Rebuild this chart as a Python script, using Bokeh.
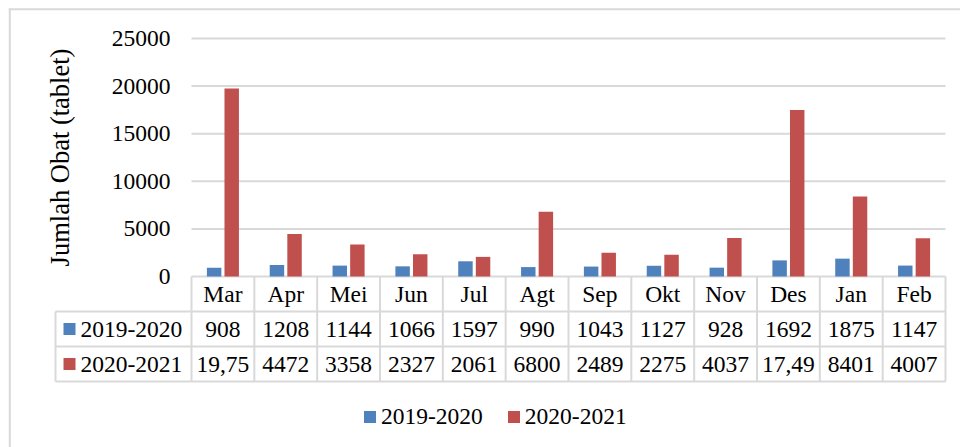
import numpy as np
from bokeh.plotting import figure
from bokeh.models import Range1d, FixedTicker, Legend, LegendItem, NumeralTickFormatter
from bokeh.embed import file_html
from bokeh.resources import INLINE
from bokeh.core.properties import value

# ---------------- data ----------------
months = ["Mar", "Apr", "Mei", "Jun", "Jul", "Agt", "Sep", "Okt", "Nov", "Des", "Jan", "Feb"]
series_names = ["2019-2020", "2020-2021"]
values_2019_2020 = [908, 1208, 1144, 1066, 1597, 990, 1043, 1127, 928, 1692, 1875, 1147]
values_2020_2021 = [19750, 4472, 3358, 2327, 2061, 6800, 2489, 2275, 4037, 17490, 8401, 4007]
table_2019_2020 = ["908", "1208", "1144", "1066", "1597", "990", "1043", "1127", "928", "1692", "1875", "1147"]
table_2020_2021 = ["19,75", "4472", "3358", "2327", "2061", "6800", "2489", "2275", "4037", "17,49", "8401", "4007"]
y_ticks = [0, 5000, 10000, 15000, 20000, 25000]
y_title = "Jumlah Obat (tablet)"

# ---------------- style / layout ----------------
BLUE = "#4f81bd"
RED = "#c0504d"
GRID = "#d9d9d9"
FONT = "Liberation Serif"
FS = "23.5px"

W, H = 960, 447                 # canvas pixels (canvas origin = page origin)
n = len(months)
X0_PX, X1_PX = 191, 945         # category area
Y0_PX, YTOP_PX = 276, 38        # value 0 and value 25000
CAT_PX = (X1_PX - X0_PX) / n
PX_VAL = 25000 / (Y0_PX - YTOP_PX)
centers = np.arange(n) + 0.5


def px_x(px):
    return (px - X0_PX) / CAT_PX


def px_y(py):
    return (Y0_PX - py) * PX_VAL


p = figure(width=W, height=H, output_backend="svg", toolbar_location=None,
           x_range=Range1d(px_x(0), px_x(W)), y_range=Range1d(px_y(H), px_y(0)),
           x_axis_location=None,
           min_border=0, min_border_left=0, min_border_right=0,
           min_border_top=0, min_border_bottom=0,
           outline_line_color=None)
p.grid.visible = False
# table coordinates: pixels below the zero line
p.extra_y_ranges = {"tab": Range1d(H - Y0_PX, 0 - Y0_PX)}

# y axis placed at the start of the category area
ya = p.yaxis[0]
ya.fixed_location = 0
ya.bounds = (0, 25000)
ya.ticker = FixedTicker(ticks=y_ticks)
ya.formatter = NumeralTickFormatter(format="0")
ya.axis_line_color = None
ya.major_tick_line_color = None
ya.minor_tick_line_color = None
ya.major_tick_out = 0
ya.major_tick_in = 0
ya.major_label_standoff = 21
ya.major_label_text_font = FONT
ya.major_label_text_font_size = FS
ya.major_label_text_color = "black"
ya.axis_label = y_title
ya.axis_label_text_font = FONT
ya.axis_label_text_font_size = "26.5px"
ya.axis_label_text_font_style = "normal"
ya.axis_label_text_color = "black"
ya.axis_label_standoff = 34

# chart-area border (top and left edges)
p.segment(x0=[px_x(9.3), px_x(8.3)], x1=[px_x(9.3), px_x(W)],
          y0=[px_y(8.3), px_y(8.8)], y1=[px_y(H), px_y(8.8)],
          line_color=GRID, line_width=2)

# gridlines over the category area
p.segment(x0=[0] * len(y_ticks), x1=[n] * len(y_ticks), y0=y_ticks, y1=y_ticks,
          line_color=GRID, line_width=2)

# bars
p.vbar(x=centers - 0.14, top=values_2019_2020, width=0.23, bottom=0,
       fill_color=BLUE, line_color=None)
p.vbar(x=centers + 0.14, top=values_2020_2021, width=0.23, bottom=0,
       fill_color=RED, line_color=None)

# ---------------- data table ----------------
ROW = 35
LEG_W = 136 / CAT_PX
hy = [ROW, 2 * ROW, 3 * ROW]
p.segment(x0=[-LEG_W] * 3, x1=[n] * 3, y0=hy, y1=hy, line_color=GRID, line_width=2,
          y_range_name="tab")
vx = list(range(n + 1))
p.segment(x0=vx, x1=vx, y0=[0] * len(vx), y1=[3 * ROW] * len(vx), line_color=GRID,
          line_width=2, y_range_name="tab")
p.segment(x0=[-LEG_W], x1=[-LEG_W], y0=[ROW], y1=[3 * ROW], line_color=GRID,
          line_width=2, y_range_name="tab")

txt = dict(text_font=value(FONT), text_font_size=value(FS), text_color="black",
           text_align="center", text_baseline="middle", y_range_name="tab")
p.text(x=centers, y=[ROW * 0.5] * n, text=months, **txt)
p.text(x=centers, y=[ROW * 1.5] * n, text=table_2019_2020, **txt)
p.text(x=centers, y=[ROW * 2.5] * n, text=table_2020_2021, **txt)

r_sq = p.rect(x=[-LEG_W + 14 / CAT_PX] * 2, y=[ROW * 1.5, ROW * 2.5], width=12, height=12,
              width_units="screen", height_units="screen",
              fill_color=[BLUE, RED], line_color=None, y_range_name="tab")
p.text(x=[-LEG_W + 25 / CAT_PX] * 2, y=[ROW * 1.5, ROW * 2.5], text=series_names,
       text_font=value(FONT), text_font_size=value(FS), text_color="black",
       text_align="left", text_baseline="middle", y_range_name="tab")

legend = Legend(items=[LegendItem(label=series_names[0], renderers=[r_sq], index=0),
                       LegendItem(label=series_names[1], renderers=[r_sq], index=1)],
                location=(362, 17), orientation="horizontal",
                glyph_width=15, glyph_height=15, label_standoff=4, spacing=23,
                padding=0, margin=0, border_line_color=None, background_fill_alpha=0,
                label_text_font=FONT, label_text_font_size=FS, label_text_color="black")
p.add_layout(legend)

open("out.html", "w").write(file_html(p, INLINE))
